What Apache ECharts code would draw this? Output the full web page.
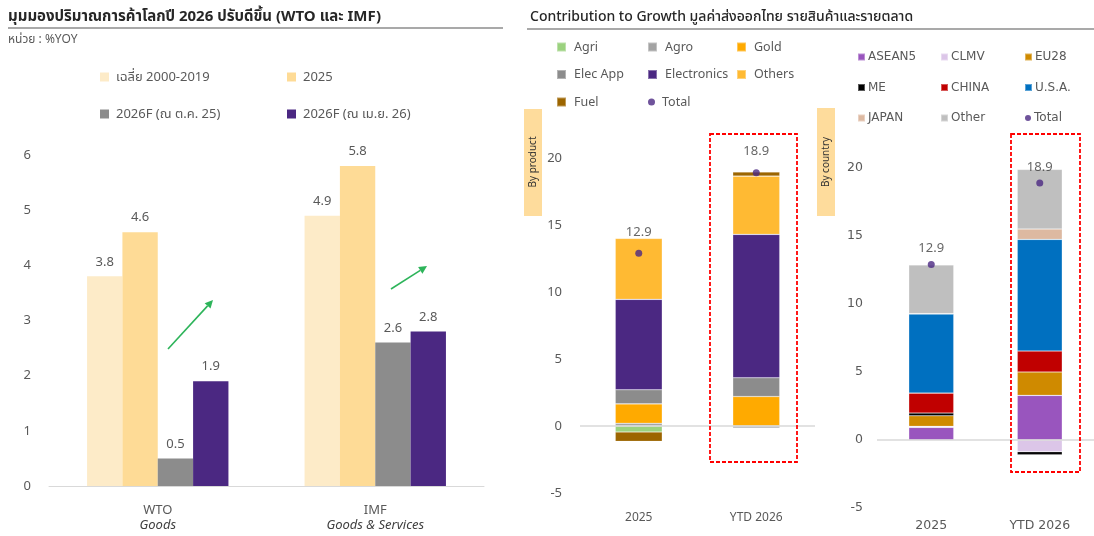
<!DOCTYPE html>
<html lang="th">
<head>
    <meta charset="UTF-8">
    <title>Trade outlook & export contribution</title>
    <script src="https://cdn.jsdelivr.net/npm/echarts@6/dist/echarts.min.js"></script>
    <style>
        html, body { margin: 0; padding: 0; background: #fff; }
        #main { width: 1094px; height: 536px; }
    </style>
</head>
<body>
<div id="main"></div>
<script>
    // ---- left chart: world trade volume outlook (%YOY)
    var leftCats = ['WTO', 'IMF'];
    var leftSubs = ['Goods', 'Goods & Services'];
    var leftNames = ['เฉลี่ย 2000-2019', '2025', '2026F (ณ ต.ค. 25)', '2026F (ณ เม.ย. 26)'];
    var avg0019 = [3.8, 4.9];
    var yr2025 = [4.6, 5.8];
    var f26Oct = [0.5, 2.6];
    var f26Apr = [1.9, 2.8];

    // ---- contribution to growth, by product / by country
    var periods = ['2025', 'YTD 2026'];
    var agri = [-0.45, 0];
    var agro = [0.2, -0.15];
    var gold = [1.45, 2.2];
    var elecApp = [1.05, 1.4];
    var electronics = [6.75, 10.7];
    var others = [4.55, 4.35];
    var fuel = [-0.7, 0.3];

    var asean5 = [0.93, 3.28];
    var clmv = [0.07, -0.86];
    var eu28 = [0.78, 1.72];
    var me = [0.2, -0.22];
    var china = [1.47, 1.54];
    var usa = [5.81, 8.21];
    var japan = [0.03, 0.76];
    var otherMkt = [3.58, 4.39];

    var total = [12.9, 18.9];

    var grey = '#595959';
    var thaiFont = "'Noto Sans', 'Noto Sans Thai', 'DejaVu Sans', sans-serif";
    var tahoma = "'DejaVu Sans', sans-serif";

    var myChart = echarts.init(document.getElementById('main'));

    function leftBar(name, data, color) {
        return {
            name: name, type: 'bar', xAxisIndex: 0, yAxisIndex: 0,
            data: data, barGap: 0, barCategoryGap: '35%',
            itemStyle: { color: color },
            label: { show: true, position: 'top', distance: 8, color: grey, fontSize: 13, fontFamily: thaiFont }
        };
    }

    function stackBar(name, data, color, axis, width) {
        return {
            name: name, type: 'bar', stack: 's' + axis, xAxisIndex: axis, yAxisIndex: axis,
            data: data, barWidth: width,
            itemStyle: { color: color, borderColor: 'rgba(255,255,255,0.35)', borderWidth: 0.6 }
        };
    }

    function totalDots(axis, dist) {
        return {
            name: 'Total', type: 'scatter', xAxisIndex: axis, yAxisIndex: axis,
            data: total, symbolSize: 7, z: 5,
            itemStyle: { color: '#4B2882' },
            label: {
                show: true, position: 'top', distance: dist, color: '#404040', fontSize: 13,
                fontFamily: thaiFont,
                formatter: function (p) { return p.value.toFixed(1); }
            }
        };
    }

    function colLegend(names, left, top, gap, size, font, fs, lh, pad) {
        return {
            orient: 'vertical', left: left, top: top, itemGap: gap, padding: 0,
            itemWidth: size, itemHeight: size, icon: 'rect', selectedMode: false,
            data: names,
            textStyle: { color: grey, fontSize: fs, fontFamily: font, lineHeight: lh, padding: [0, 0, 0, pad] }
        };
    }

    function zeroLine() {
        return {
            silent: true, symbol: 'none', label: { show: false },
            lineStyle: { color: '#D9D9D9', width: 1.5, type: 'solid' },
            data: [{ yAxis: 0 }]
        };
    }

    var midSeries = [
        stackBar('Agri', agri, '#9BD27F', 1, 47),
        stackBar('Agro', agro, '#A3A3A3', 1, 47),
        stackBar('Gold', gold, '#FFAA00', 1, 47),
        stackBar('Elec App', elecApp, '#8C8C8C', 1, 47),
        stackBar('Electronics', electronics, '#4B2882', 1, 47),
        stackBar('Others', others, '#FFBA33', 1, 47),
        stackBar('Fuel', fuel, '#9C6500', 1, 47),
        totalDots(1, 11)
    ];
    midSeries[0].markLine = zeroLine();

    var rightSeries = [
        stackBar('ASEAN5', asean5, '#9955BE', 2, 45),
        stackBar('CLMV', clmv, '#DCC6E8', 2, 45),
        stackBar('EU28', eu28, '#CF8A00', 2, 45),
        stackBar('ME', me, '#000000', 2, 45),
        stackBar('CHINA', china, '#C00000', 2, 45),
        stackBar('U.S.A.', usa, '#0070C0', 2, 45),
        stackBar('JAPAN', japan, '#DDB9A1', 2, 45),
        stackBar('Other', otherMkt, '#BFBFBF', 2, 45),
        totalDots(2, 6)
    ];
    rightSeries[0].markLine = zeroLine();

    function arrow(x1, y1, x2, y2) {
        var dx = x2 - x1, dy = y2 - y1, len = Math.sqrt(dx * dx + dy * dy);
        var ux = dx / len, uy = dy / len, bx = x2 - ux * 8, by = y2 - uy * 8;
        return [
            { type: 'line', shape: { x1: x1, y1: y1, x2: bx, y2: by }, style: { stroke: '#2DB45A', lineWidth: 1.6 } },
            { type: 'polygon', shape: { points: [[x2, y2], [bx - uy * 4, by + ux * 4], [bx + uy * 4, by - ux * 4]] }, style: { fill: '#2DB45A' } }
        ];
    }

    var graphics = [
        { type: 'text', x: 8, y: 17, style: { text: 'มุมมองปริมาณการค้าโลกปี 2026 ปรับดีขึ้น (WTO และ IMF)', font: 'bold 15px ' + thaiFont, fill: '#262626', textVerticalAlign: 'middle', verticalAlign: 'middle' } },
        { type: 'line', shape: { x1: 8, y1: 28, x2: 503, y2: 28 }, style: { stroke: '#8C8C8C', lineWidth: 1.5 } },
        { type: 'text', x: 8, y: 40, style: { text: 'หน่วย : %YOY', font: '12px ' + thaiFont, fill: grey, textVerticalAlign: 'middle', verticalAlign: 'middle' } },
        { type: 'text', x: 530, y: 17, style: { text: 'Contribution to Growth มูลค่าส่งออกไทย รายสินค้าและรายตลาด', font: '500 14px ' + thaiFont, fill: '#262626', textVerticalAlign: 'middle', verticalAlign: 'middle' } },
        { type: 'line', shape: { x1: 527, y1: 29, x2: 1094, y2: 29 }, style: { stroke: '#8C8C8C', lineWidth: 1.5 } },
        { type: 'rect', shape: { x: 524, y: 109, width: 18, height: 107 }, style: { fill: '#FEDC9C' } },
        { type: 'text', x: 533, y: 162, rotation: Math.PI / 2, style: { text: 'By product', font: '10px ' + thaiFont, fill: '#333', textAlign: 'center', align: 'center', textVerticalAlign: 'middle', verticalAlign: 'middle' } },
        { type: 'rect', shape: { x: 817, y: 108, width: 18, height: 108 }, style: { fill: '#FEDC9C' } },
        { type: 'text', x: 826, y: 162, rotation: Math.PI / 2, style: { text: 'By country', font: '10px ' + thaiFont, fill: '#333', textAlign: 'center', align: 'center', textVerticalAlign: 'middle', verticalAlign: 'middle' } },
        { type: 'rect', z: 10, shape: { x: 710, y: 134, width: 87, height: 328 }, style: { fill: 'none', stroke: '#FF0000', lineWidth: 1.8, lineDash: [4, 2] } },
        { type: 'rect', z: 10, shape: { x: 1011, y: 134, width: 69, height: 338 }, style: { fill: 'none', stroke: '#FF0000', lineWidth: 1.8, lineDash: [4, 2] } }
    ].concat(arrow(168, 349, 213, 300), arrow(391, 289, 427, 266));

    var option = {
        backgroundColor: '#fff',
        animation: false,
        textStyle: { fontFamily: thaiFont },
        graphic: graphics,
        legend: [
            colLegend([leftNames[0], leftNames[2]], 100, 69, 21, 9, thaiFont, 13, 16, 2),
            colLegend([leftNames[1], leftNames[3]], 287, 69, 21, 9, thaiFont, 13, 16, 2),
            colLegend(['Agri', 'Elec App', 'Fuel'], 556, 39, 11.5, 9, thaiFont, 12.5, 16, 3),
            colLegend(['Agro', 'Electronics'], 647, 39, 11.5, 9, thaiFont, 12.5, 16, 3),
            colLegend(['Gold', 'Others'], 736, 39, 11.5, 9, thaiFont, 12.5, 16, 3),
            {
                left: 648, top: 94, padding: 0, itemWidth: 7, itemHeight: 7, icon: 'circle', selectedMode: false,
                data: ['Total'], textStyle: { color: grey, fontSize: 12.5, fontFamily: thaiFont, lineHeight: 16, padding: [0, 0, 0, 2] }
            },
            colLegend(['ASEAN5', 'ME', 'JAPAN'], 857, 50, 16.5, 7, tahoma, 12, 14, -2),
            colLegend(['CLMV', 'CHINA', 'Other'], 940, 50, 16.5, 7, tahoma, 12, 14, -2),
            colLegend(['EU28', 'U.S.A.'], 1024, 50, 16.5, 7, tahoma, 12, 14, -2),
            {
                left: 1025, top: 111, padding: 0, itemWidth: 6, itemHeight: 6, icon: 'circle', selectedMode: false,
                data: ['Total'], textStyle: { color: grey, fontSize: 12, fontFamily: tahoma, lineHeight: 14, padding: [0, 0, 0, -2] }
            }
        ],
        grid: [
            { left: 49, right: 610, top: 155, bottom: 50 },
            { left: 580, width: 235, top: 158, bottom: 43 },
            { left: 877, width: 224, top: 168, bottom: 28 }
        ],
        xAxis: [
            {
                type: 'category', gridIndex: 0, data: leftCats,
                axisLine: { lineStyle: { color: '#D9D9D9' } }, axisTick: { show: false },
                axisLabel: {
                    margin: 17, color: grey, fontSize: 13, lineHeight: 15,
                    formatter: function (v, i) { return v + '\n{i|' + leftSubs[i] + '}'; },
                    rich: { i: { fontStyle: 'italic', color: '#404040', fontSize: 13, lineHeight: 15 } }
                }
            },
            {
                type: 'category', gridIndex: 1, data: periods,
                axisLine: { show: false, onZero: false }, axisTick: { show: false },
                axisLabel: { margin: 19, color: grey, fontSize: 12 }
            },
            {
                type: 'category', gridIndex: 2, data: periods,
                axisLine: { show: false, onZero: false }, axisTick: { show: false },
                axisLabel: { margin: 11, color: grey, fontSize: 12.5, fontFamily: tahoma }
            }
        ],
        yAxis: [
            {
                type: 'value', gridIndex: 0, min: 0, max: 6, interval: 1,
                splitLine: { show: false }, axisLine: { show: false },
                axisLabel: { margin: 18, color: grey, fontSize: 13 }
            },
            {
                type: 'value', gridIndex: 1, min: -5, max: 20, interval: 5,
                splitLine: { show: false }, axisLine: { show: false },
                axisLabel: { margin: 18, color: grey, fontSize: 13 }
            },
            {
                type: 'value', gridIndex: 2, min: -5, max: 20, interval: 5,
                splitLine: { show: false }, axisLine: { show: false },
                axisLabel: { margin: 14, color: grey, fontSize: 12.5, fontFamily: tahoma }
            }
        ],
        series: [
            leftBar(leftNames[0], avg0019, '#FDEBC8'),
            leftBar(leftNames[1], yr2025, '#FEDB96'),
            leftBar(leftNames[2], f26Oct, '#8C8C8C'),
            leftBar(leftNames[3], f26Apr, '#4B2882')
        ].concat(midSeries, rightSeries)
    };

    myChart.setOption(option);
</script>
</body>
</html>
